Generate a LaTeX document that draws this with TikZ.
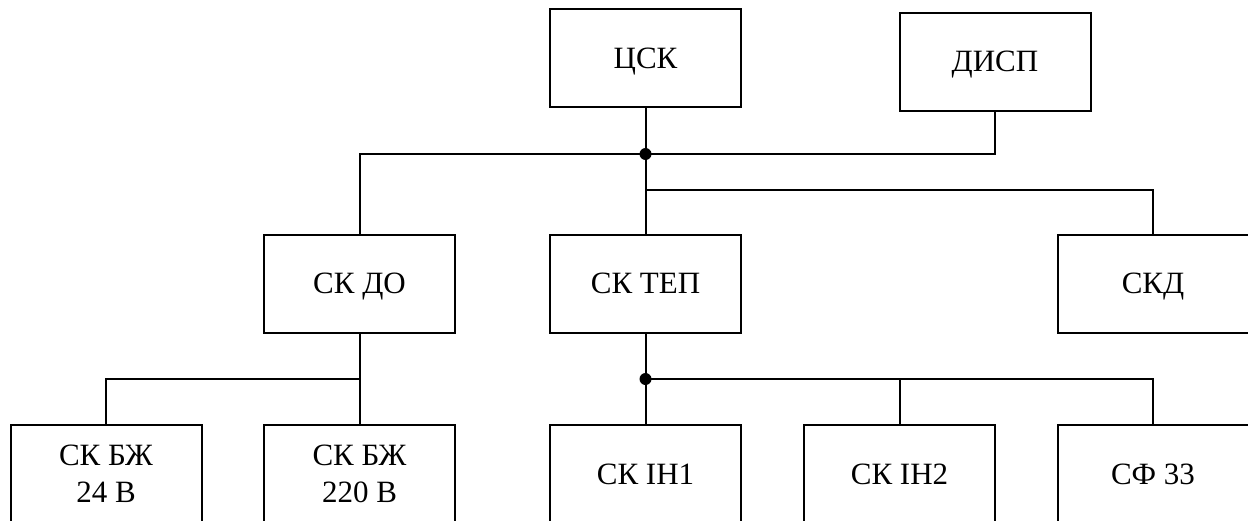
\documentclass[tikz,border=0pt]{standalone}
\usepackage{fontspec}
\setmainfont{Liberation Serif}
\begin{document}
\begin{tikzpicture}[x=0.5pt,y=-0.5pt,line width=1pt]

    % let's define some key values
    \def\boxw{95.5pt}
    \def\boxh{49pt}
    \def\xleft{106}
    \def\xdo{359.5}
    \def\xmid{645.5}
    \def\xin{899.5}
    \def\xright{1153}
    \def\ymid{283.5}
    \def\ylow{474}
    \def\ybustop{154}
    \def\ybusskd{190}
    \def\ybuslow{379}

    % Styles
    \tikzstyle{block}=[draw, minimum width=\boxw, minimum height=\boxh, inner sep=0pt, align=center, font=\fontsize{15.5}{18.5}\selectfont]
    \tikzstyle{oneline}=[block, text height=10.4pt, text depth=0pt]
    \tikzstyle{junction}=[circle, fill, inner sep=0pt, minimum size=6pt]

    \useasboundingbox (0,0) rectangle (1248,520);
    \clip (0,0) rectangle (1248,520);

    % top row
    \node[oneline] (csk) at (\xmid,58) {ЦСК};
    \node[oneline] (disp) at (995,61.5) {ДИСП};

    % middle row
    \node[oneline] (skdo) at (\xdo,\ymid) {СК ДО};
    \node[oneline] (sktep) at (\xmid,\ymid) {СК ТЕП};
    \node[oneline] (skd) at (\xright,\ymid) {СКД};

    % bottom row
    \node[block] (skbzha) at (\xleft,\ylow) {СК БЖ\\24 В};
    \node[block] (skbzhb) at (\xdo,\ylow) {СК БЖ\\220 В};
    \node[oneline] (skina) at (\xmid,\ylow) {СК ІН1};
    \node[oneline] (skinb) at (\xin,\ylow) {СК ІН2};
    \node[oneline] (skf) at (\xright,\ylow) {СФ 33};

    % junctions
    \node[junction] (jtop) at (\xmid,\ybustop) {};
    \node[junction] (jtep) at (\xmid,\ybuslow) {};
    \coordinate (busskd) at (\xmid,\ybusskd);
    \coordinate (busdo) at (\xdo,\ybuslow);

    % upper bus
    \draw (csk) -- (sktep);
    \draw (disp.south) |- (jtop.center) -| (skdo.north);
    \draw (busskd) -| (skd.north);

    % left branch
    \draw (skdo) -- (skbzhb);
    \draw (skbzha.north) |- (busdo);

    % right branch
    \draw (sktep) -- (skina);
    \draw (jtep.center) -| (skinb.north);
    \draw (jtep.center) -| (skf.north);

\end{tikzpicture}
\end{document}
